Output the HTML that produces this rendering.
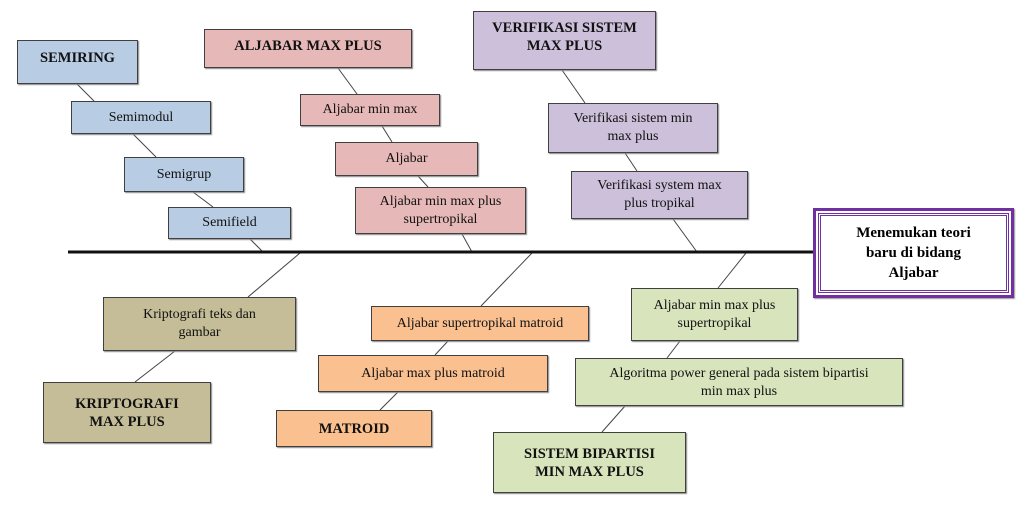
<!DOCTYPE html>
<html><head><meta charset="utf-8"><style>
body{margin:0;width:1029px;height:506px;background:#fff;position:relative;overflow:hidden;font-family:"Liberation Serif",serif;}
.b{position:absolute;box-sizing:border-box;border:1px solid #404040;display:flex;align-items:center;justify-content:center;text-align:center;font-size:14px;line-height:18px;color:#111;box-shadow:1px 1px 1px #888;}
.h{font-weight:bold;font-size:14.5px;}
.bl{background:#b8cce4}.pk{background:#e6b9b8}.pu{background:#ccc0da}.tn{background:#c4bd97}.or{background:#fac090}.gr{background:#d7e4bc}
svg{position:absolute;left:0;top:0}
</style></head><body>
<svg width="1029" height="506">
<g stroke="#444" stroke-width="1">
<line x1="77" y1="84" x2="94" y2="101"/><line x1="133" y1="134" x2="156" y2="157"/><line x1="193" y1="192" x2="213" y2="207"/><line x1="250" y1="239" x2="263" y2="252"/>
<line x1="338" y1="68" x2="357" y2="94"/><line x1="382" y1="126" x2="392" y2="142"/><line x1="418" y1="176" x2="428" y2="187"/><line x1="462" y1="234" x2="472" y2="252"/>
<line x1="562" y1="70" x2="585" y2="103"/><line x1="625" y1="153" x2="637" y2="171"/><line x1="673" y1="219" x2="697" y2="252"/>
<line x1="300" y1="253" x2="248" y2="297"/><line x1="175" y1="351" x2="135" y2="382"/>
<line x1="532" y1="253" x2="481" y2="306"/><line x1="448" y1="341" x2="435" y2="355"/><line x1="398" y1="392" x2="380" y2="410"/>
<line x1="746" y1="253" x2="718" y2="288"/><line x1="680" y1="341" x2="667" y2="358"/><line x1="625" y1="406" x2="602" y2="432"/>
</g>
<line x1="68" y1="252" x2="815" y2="252" stroke="#111" stroke-width="3"/>
</svg>
<div class="b bl h" style="left:17px;top:40px;width:121px;height:44px;align-items:flex-start;padding-top:8px">SEMIRING</div>
<div class="b bl" style="left:71px;top:101px;width:140px;height:33px">Semimodul</div>
<div class="b bl" style="left:124px;top:157px;width:120px;height:35px">Semigrup</div>
<div class="b bl" style="left:168px;top:207px;width:123px;height:32px">Semifield</div>
<div class="b pk h" style="left:204px;top:29px;width:208px;height:39px;align-items:flex-start;padding-top:7px">ALJABAR MAX PLUS</div>
<div class="b pk" style="left:300px;top:94px;width:140px;height:32px">Aljabar min max</div>
<div class="b pk" style="left:335px;top:142px;width:143px;height:34px">Aljabar</div>
<div class="b pk" style="left:355px;top:187px;width:171px;height:47px">Aljabar min max plus<br>supertropikal</div>
<div class="b pu h" style="left:473px;top:11px;width:183px;height:59px;align-items:flex-start;padding-top:7px">VERIFIKASI SISTEM<br>MAX PLUS</div>
<div class="b pu" style="left:548px;top:103px;width:170px;height:50px">Verifikasi sistem min<br>max plus</div>
<div class="b pu" style="left:571px;top:171px;width:177px;height:48px">Verifikasi system max<br>plus tropikal</div>
<div style="position:absolute;left:813px;top:208px;width:201px;height:90px;box-sizing:border-box;border:3px solid #7030a0;padding:2px;background:#fff;box-shadow:1px 1px 1px #999">
<div style="width:100%;height:100%;box-sizing:border-box;border:3px double #7030a0;display:flex;align-items:center;justify-content:center;text-align:center;font-weight:bold;font-size:15px;line-height:20px">Menemukan teori<br>baru di bidang<br>Aljabar</div></div>
<div class="b tn" style="left:103px;top:297px;width:193px;height:54px">Kriptografi teks dan<br>gambar</div>
<div class="b tn h" style="left:43px;top:382px;width:168px;height:61px">KRIPTOGRAFI<br>MAX PLUS</div>
<div class="b or" style="left:371px;top:306px;width:218px;height:35px">Aljabar supertropikal matroid</div>
<div class="b or" style="left:318px;top:355px;width:230px;height:37px">Aljabar max plus matroid</div>
<div class="b or h" style="left:276px;top:410px;width:156px;height:37px">MATROID</div>
<div class="b gr" style="left:631px;top:288px;width:167px;height:53px">Aljabar min max plus<br>supertropikal</div>
<div class="b gr" style="left:575px;top:358px;width:328px;height:48px;align-items:flex-start;padding-top:6px;overflow:hidden">Algoritma power general pada sistem bipartisi<br>min max plus</div>
<div class="b gr h" style="left:493px;top:432px;width:193px;height:61px">SISTEM BIPARTISI<br>MIN MAX PLUS</div>
</body></html>
